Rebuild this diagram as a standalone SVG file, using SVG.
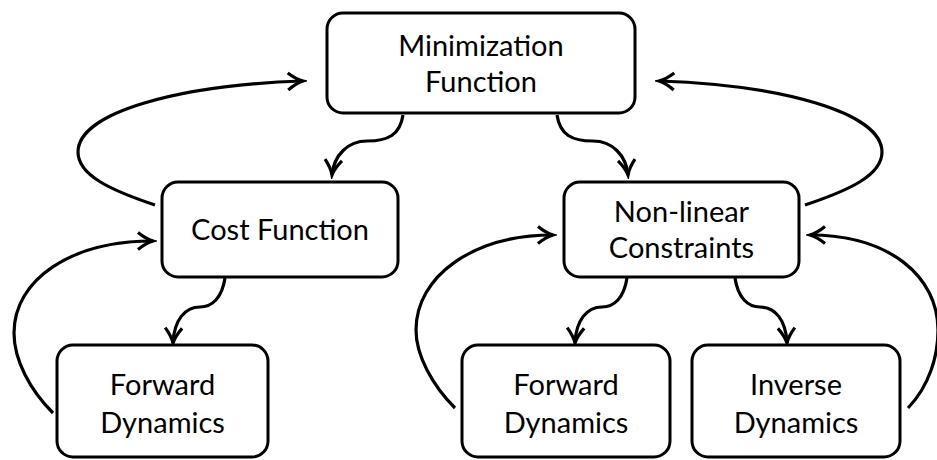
<svg xmlns="http://www.w3.org/2000/svg" width="937" height="460" viewBox="0 0 937 460">
<style>
.box{fill:#fff;stroke:#000;stroke-width:3}
.lbl{font-family:Lato,"Liberation Sans",sans-serif;font-size:29px;fill:#000;text-anchor:middle}
.con{fill:none;stroke:#000;stroke-width:3.2;marker-end:url(#ah)}
</style>
<defs>
<marker id="ah" markerUnits="userSpaceOnUse" viewBox="-20 -12 24 24" markerWidth="24" markerHeight="24" refX="0" refY="0" orient="auto">
<path d="M-15,-8.5 Q-7,-2 0,0 Q-7,2 -15,8.5" fill="none" stroke="#000" stroke-width="3.2" stroke-linejoin="miter"/>
</marker>
</defs>
<rect width="937" height="460" fill="#fff"/>
<g id="connectors">
<path class="con" d="M155,205 C110,190 78,175 78,152 C78,112 180,85 303,81"/>
<path class="con" d="M805,205 C850,190 882,175 882,152 C882,112 780,85 659,81"/>
<path class="con" d="M403,115 C400,135 388,141 367,141 C348,141 334,155 332,175"/>
<path class="con" d="M557,115 C560,135 572,141 593,141 C612,141 626,155 628,175"/>
<path class="con" d="M225,278 C222,298 212,307 200,307 C185,307 174,320 173,343"/>
<path class="con" d="M627,278 C624,298 614,307 602,307 C587,307 576,320 575,343"/>
<path class="con" d="M735,278 C738,298 748,307 760,307 C775,307 786,320 787,343"/>
<path class="con" d="M53,413 C30,390 14,360 14,333 C14,280 70,241 153,241"/>
<path class="con" d="M455,408 C432,385 416,355 416,330 C416,277 472,235 553,235"/>
<path class="con" d="M908,408 C930,385 938,355 938,330 C938,277 890,235 810,235"/>
</g>
<g id="minimization">
<rect class="box" x="327" y="13" width="308" height="100" rx="16"/>
<text class="lbl" x="481" y="56">Minimization</text>
<text class="lbl" x="481" y="92">Function</text>
</g>
<g id="cost">
<rect class="box" x="162" y="182" width="236" height="95" rx="16"/>
<text class="lbl" x="280" y="240">Cost Function</text>
</g>
<g id="nonlinear">
<rect class="box" x="564" y="182" width="235" height="95" rx="16"/>
<text class="lbl" x="681.5" y="222">Non-linear</text>
<text class="lbl" x="681.5" y="258">Constraints</text>
</g>
<g id="forward1">
<rect class="box" x="57" y="345" width="211" height="112" rx="16"/>
<text class="lbl" x="162.5" y="395">Forward</text>
<text class="lbl" x="162.5" y="433">Dynamics</text>
</g>
<g id="forward2">
<rect class="box" x="462" y="345" width="208" height="112" rx="16"/>
<text class="lbl" x="566" y="395">Forward</text>
<text class="lbl" x="566" y="433">Dynamics</text>
</g>
<g id="inverse">
<rect class="box" x="692" y="345" width="208" height="112" rx="16"/>
<text class="lbl" x="796" y="395">Inverse</text>
<text class="lbl" x="796" y="433">Dynamics</text>
</g>
</svg>
